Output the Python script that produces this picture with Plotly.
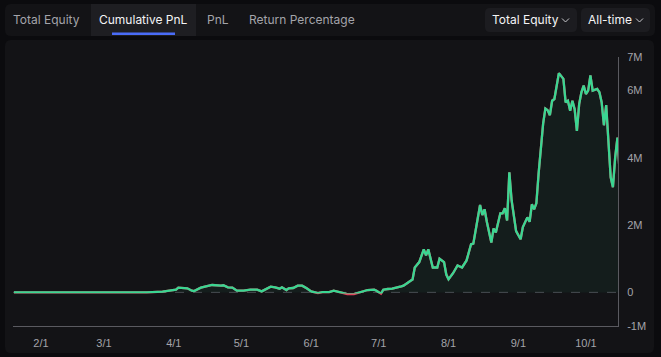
import plotly.graph_objects as go

# ---------------- data ----------------
dates = [
    "2025-01-20", "2025-02-09", "2025-02-27", "2025-03-04", "2025-03-17", "2025-03-20",
    "2025-03-27", "2025-03-30", "2025-04-02", "2025-04-03", "2025-04-06", "2025-04-07",
    "2025-04-09", "2025-04-10", "2025-04-13", "2025-04-16", "2025-04-18", "2025-04-22",
    "2025-04-23", "2025-04-25", "2025-04-26", "2025-04-27", "2025-04-29", "2025-05-02",
    "2025-05-05", "2025-05-08", "2025-05-10", "2025-05-12", "2025-05-14", "2025-05-16",
    "2025-05-18", "2025-05-19", "2025-05-21", "2025-05-22", "2025-05-24", "2025-05-26",
    "2025-05-28", "2025-05-30", "2025-06-01", "2025-06-04", "2025-06-06", "2025-06-09",
    "2025-06-11", "2025-06-14", "2025-06-17", "2025-06-20", "2025-06-23", "2025-06-26",
    "2025-06-29", "2025-06-30", "2025-07-02", "2025-07-03", "2025-07-05", "2025-07-07",
    "2025-07-11", "2025-07-12", "2025-07-15", "2025-07-16", "2025-07-17", "2025-07-19",
    "2025-07-21", "2025-07-22", "2025-07-23", "2025-07-25", "2025-07-27", "2025-07-28",
    "2025-07-30", "2025-07-31", "2025-08-01", "2025-08-03", "2025-08-05", "2025-08-07",
    "2025-08-09", "2025-08-11", "2025-08-12", "2025-08-15", "2025-08-16", "2025-08-17",
    "2025-08-18", "2025-08-20", "2025-08-21", "2025-08-22", "2025-08-24", "2025-08-25",
    "2025-08-26", "2025-08-27", "2025-08-28", "2025-08-29", "2025-08-31", "2025-09-02",
    "2025-09-03", "2025-09-05", "2025-09-06", "2025-09-07", "2025-09-08", "2025-09-09",
    "2025-09-10", "2025-09-12", "2025-09-13", "2025-09-14", "2025-09-15", "2025-09-16",
    "2025-09-17", "2025-09-19", "2025-09-21", "2025-09-22", "2025-09-23", "2025-09-24",
    "2025-09-25", "2025-09-26", "2025-09-27", "2025-09-28", "2025-09-29", "2025-09-30",
    "2025-10-01", "2025-10-02", "2025-10-03", "2025-10-04", "2025-10-06", "2025-10-07",
    "2025-10-08", "2025-10-09", "2025-10-10", "2025-10-11", "2025-10-12", "2025-10-13",
    "2025-10-14", "2025-10-15", "2025-10-16",
]
pnl_millions = [
    0.0, 0.0, -0.01, -0.02, -0.02, 0.0,
    0.02, 0.04, 0.08, 0.14, 0.14, 0.12,
    0.05, 0.04, 0.14, 0.18, 0.22, 0.20,
    0.21, 0.15, 0.15, 0.14, 0.05, 0.05,
    0.08, 0.08, 0.03, 0.10, 0.17, 0.15,
    0.11, 0.15, 0.07, 0.12, 0.13, 0.20,
    0.20, 0.12, 0.03, -0.02, 0.01, 0.01,
    0.05, 0.0, -0.05, -0.05, 0.01, 0.07,
    0.08, 0.05, -0.04, 0.08, 0.10, 0.11,
    0.18, 0.20, 0.34, 0.38, 0.74, 0.90,
    1.28, 1.10, 1.28, 0.74, 0.74, 1.00,
    0.90, 0.53, 0.39, 0.57, 0.80, 0.74,
    0.95, 1.43, 1.45, 2.60, 2.30, 2.47,
    2.10, 1.48, 1.90, 1.78, 2.35, 2.35,
    2.50, 2.14, 3.57, 2.74, 1.82, 1.58,
    1.94, 2.23, 2.10, 2.62, 2.47, 2.65,
    3.54, 5.02, 5.47, 5.42, 5.27, 5.70,
    5.75, 6.52, 6.35, 5.65, 5.70, 5.40,
    5.70, 5.45, 4.80, 5.60, 5.95, 6.15,
    5.90, 6.00, 6.45, 6.00, 6.05, 5.95,
    5.65, 4.97, 5.57, 4.33, 3.42, 3.13,
    4.02, 4.60, 3.54,
]
tick_dates = ["2025-02-01", "2025-03-01", "2025-04-01", "2025-05-01", "2025-06-01",
              "2025-07-01", "2025-08-01", "2025-09-01", "2025-10-01"]
tick_date_labels = ["2/1", "3/1", "4/1", "5/1", "6/1", "7/1", "8/1", "9/1", "10/1"]
y_tick_vals = [-1e6, 0, 2e6, 4e6, 6e6, 7e6]
y_tick_labels = ["-1M", "0", "2M", "4M", "6M", "7M"]
tabs = ["Total Equity", "Cumulative PnL", "PnL", "Return Percentage"]
dropdowns = ["Total Equity", "All-time"]

values = [v * 1e6 for v in pnl_millions]

# ---------------- geometry ----------------
W, H = 661, 357
L, R, T, B = 13, 43, 57, 31
PW, PH = W - L - R, H - T - B
Y_MIN, Y_MAX = -1e6, 7e6
split = (0 - Y_MIN) / (Y_MAX - Y_MIN)
eps = 1.2 / PH                       # green clip reaches 1.2 px below zero
eps_val = eps * (Y_MAX - Y_MIN)

def px(x):
    return (x - L) / PW

def py(y):
    return (H - B - y) / PH

def rrect(x0, y0, x1, y1, r):
    rx, ry = r / PW, r / PH
    X0, X1 = px(x0), px(x1)
    Y0, Y1 = py(y0), py(y1)
    return (f"M{X0+rx},{Y0} L{X1-rx},{Y0} Q{X1},{Y0} {X1},{Y0-ry} "
            f"L{X1},{Y1+ry} Q{X1},{Y1} {X1-rx},{Y1} L{X0+rx},{Y1} "
            f"Q{X0},{Y1} {X0},{Y1+ry} L{X0},{Y0-ry} Q{X0},{Y0} {X0+rx},{Y0} Z")

GREEN = "#3ad692"
RED = "#e0475e"
OUTER = "#0b0b0e"
CARD = "#131316"
TXT = "#a4a4aa"
FONT = "Inter"
TICKFONT = "Liberation Sans"

fig = go.Figure()

# red line (full plot, underneath)
fig.add_trace(go.Scatter(
    x=dates, y=values, mode="lines", xaxis="x", yaxis="y",
    line=dict(color=RED, width=2.3), hoverinfo="skip", showlegend=False,
))
# green line + fill, clipped to the area above zero, drawn on top
fig.add_trace(go.Scatter(
    x=dates, y=values, mode="lines", xaxis="x", yaxis="y2",
    line=dict(color=GREEN, width=2.3), fill="tozeroy",
    fillcolor="rgba(58,214,146,0.055)", hoverinfo="skip", showlegend=False,
))

shapes = []
shapes.append(dict(type="path", path=rrect(5, 40, 654, 353, 6), xref="paper", yref="paper",
                   fillcolor=CARD, line=dict(width=0), layer="below"))
shapes.append(dict(type="path", path=rrect(5, 4, 655, 36, 6), xref="paper", yref="paper",
                   fillcolor=CARD, line=dict(width=0), layer="below"))
shapes.append(dict(type="rect", x0=px(91), x1=px(196), y0=py(4), y1=py(36), xref="paper", yref="paper",
                   fillcolor="#1e1e22", line=dict(width=0), layer="below"))
shapes.append(dict(type="rect", x0=px(112), x1=px(175), y0=py(32.5), y1=py(35), xref="paper", yref="paper",
                   fillcolor="#4a6cf7", line=dict(width=0), layer="above"))
shapes.append(dict(type="path", path=rrect(485, 8, 577, 32, 5), xref="paper", yref="paper",
                   fillcolor="#1c1c20", line=dict(width=0), layer="below"))
shapes.append(dict(type="path", path=rrect(581, 8, 650, 32, 5), xref="paper", yref="paper",
                   fillcolor="#1c1c20", line=dict(width=0), layer="below"))
for cx in (565.5, 639.5):
    shapes.append(dict(type="path",
                       path=f"M{px(cx-3.5)},{py(18.5)} L{px(cx)},{py(22)} L{px(cx+3.5)},{py(18.5)}",
                       xref="paper", yref="paper", line=dict(color="#c8c8cc", width=1)))
shapes.append(dict(type="line", xref="paper", x0=0, x1=1, yref="y", y0=0, y1=0,
                   line=dict(color="#4a4a50", width=1, dash="dash"), layer="below"))

annotations = []
tab_centers = [46, 143.5, 218, 302]
for i, (t, cx) in enumerate(zip(tabs, tab_centers)):
    active = (i == 1)
    annotations.append(dict(
        text=t, x=px(cx), y=py(19.5), xref="paper", yref="paper", showarrow=False,
        xanchor="center", yanchor="middle",
        font=dict(family=FONT, size=12, color="#f4f4f6" if active else TXT),
    ))
for t, x0 in zip(dropdowns, [490, 586]):
    annotations.append(dict(
        text=t, x=px(x0), y=py(19.5), xref="paper", yref="paper", showarrow=False,
        xanchor="left", yanchor="middle",
        font=dict(family=FONT, size=12, color="#f4f4f6"),
    ))

axis_common = dict(showgrid=False, zeroline=False, ticks="", fixedrange=True, automargin=False)

fig.update_layout(
    width=W, height=H,
    margin=dict(l=L, r=R, t=T, b=B, pad=0, autoexpand=False),
    paper_bgcolor=OUTER, plot_bgcolor="rgba(0,0,0,0)",
    font=dict(family=FONT, size=11, color=TXT),
    showlegend=False,
    shapes=shapes, annotations=annotations,
    xaxis=dict(
        **axis_common, anchor="y", domain=[0, 1],
        range=["2025-01-19 14:00", "2025-10-15 06:00"], type="date",
        tickvals=tick_dates, ticktext=tick_date_labels,
        showline=True, linecolor="#5a5a60", linewidth=1,
        tickfont=dict(family=TICKFONT, size=11, color=TXT), ticklabelstandoff=7,
    ),
    yaxis=dict(
        **axis_common, anchor="x", side="right", domain=[0, 1],
        range=[Y_MIN, Y_MAX], tickvals=y_tick_vals, ticktext=y_tick_labels,
        showline=True, linecolor="#5a5a60", linewidth=1,
        tickfont=dict(family=TICKFONT, size=11, color=TXT), ticklabelstandoff=6,
    ),
    yaxis2=dict(
        **axis_common, anchor="x", side="right", domain=[split - eps, 1],
        range=[-eps_val, Y_MAX], showticklabels=False, showline=False,
    ),
)

fig.write_html("out.html", include_plotlyjs=True, config={"displayModeBar": False},
               post_script="document.body.style.margin='0';document.body.style.overflow='hidden';")
